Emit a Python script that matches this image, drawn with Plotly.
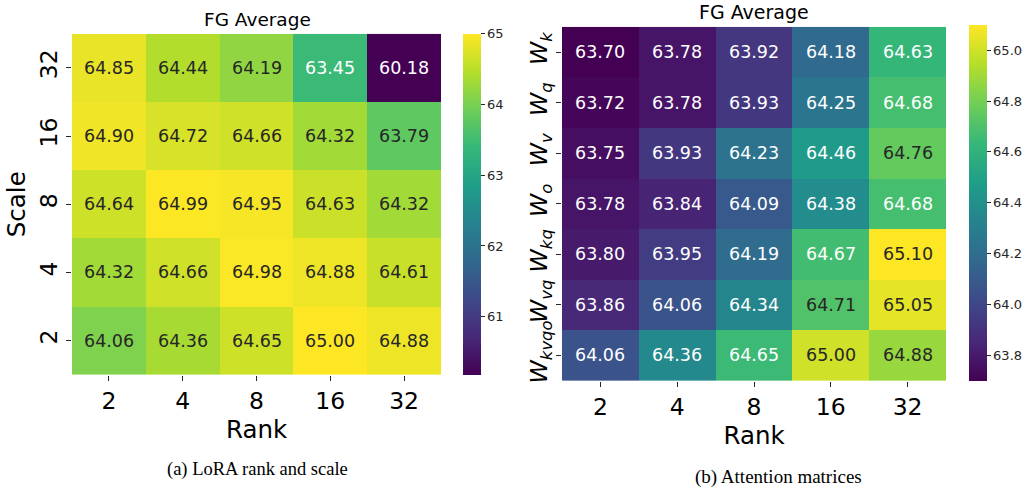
import plotly.graph_objects as go
from plotly.colors import sample_colorscale, unlabel_rgb

ranks = ["2", "4", "8", "16", "32"]

# Left: LoRA rank and scale (rows top -> bottom)
scales = ["32", "16", "8", "4", "2"]
lora_vals = [
    [64.85, 64.44, 64.19, 63.45, 60.18],
    [64.90, 64.72, 64.66, 64.32, 63.79],
    [64.64, 64.99, 64.95, 64.63, 64.32],
    [64.32, 64.66, 64.98, 64.88, 64.61],
    [64.06, 64.36, 64.65, 65.00, 64.88],
]
lora_ticks = [61, 62, 63, 64, 65]

# Right: attention matrices (rows top -> bottom)
matrices = ["<i>W</i><sub><i>k</i></sub>", "<i>W</i><sub><i>q</i></sub>",
            "<i>W</i><sub><i>v</i></sub>", "<i>W</i><sub><i>o</i></sub>",
            "<i>W</i><sub><i>kq</i></sub>", "<i>W</i><sub><i>vq</i></sub>",
            "<i>W</i><sub><i>kvqo</i></sub>"]
attn_vals = [
    [63.70, 63.78, 63.92, 64.18, 64.63],
    [63.72, 63.78, 63.93, 64.25, 64.68],
    [63.75, 63.93, 64.23, 64.46, 64.76],
    [63.78, 63.84, 64.09, 64.38, 64.68],
    [63.80, 63.95, 64.19, 64.67, 65.10],
    [63.86, 64.06, 64.34, 64.71, 65.05],
    [64.06, 64.36, 64.65, 65.00, 64.88],
]
attn_ticks = [63.8, 64.0, 64.2, 64.4, 64.6, 64.8, 65.0]

title_text = "FG Average"
caption_a = "(a) LoRA rank and scale"
caption_b = "(b) Attention matrices"

W, H = 1031, 493
FONT = "DejaVu Sans"
DARK = "#262626"


def text_color(v, lo, hi):
    t = (v - lo) / (hi - lo)
    rgb = unlabel_rgb(sample_colorscale("Viridis", [t])[0])
    lin = []
    for c in rgb:
        c = c / 255.0
        lin.append(c / 12.92 if c <= 0.04045 else ((c + 0.055) / 1.055) ** 2.4)
    lum = 0.2126 * lin[0] + 0.7152 * lin[1] + 0.0722 * lin[2]
    return DARK if lum > 0.408 else "white"


def px_x(p):
    return p / W


def px_y(p):
    return 1 - p / H


fig = go.Figure()

# geometry (pixels)
L = dict(x0=72, x1=441, y0=34, y1=377, cbx=463)
R = dict(x0=562, x1=946, y0=27, y1=383, cbx=969, cby0=25, cby1=383)

lo_a, hi_a = min(map(min, lora_vals)), max(map(max, lora_vals))
lo_b, hi_b = min(map(min, attn_vals)), max(map(max, attn_vals))

# plot rows bottom -> top
fig.add_trace(go.Heatmap(
    z=lora_vals[::-1], x=ranks, y=scales[::-1], colorscale="Viridis", zmin=lo_a, zmax=hi_a,
    xaxis="x", yaxis="y", hoverinfo="skip",
    colorbar=dict(x=px_x(L["cbx"]), xanchor="left", xpad=0, ypad=0,
                  y=(px_y(L["y0"]) + px_y(L["y1"])) / 2, yanchor="middle",
                  len=(L["y1"] - L["y0"]) / H, thickness=18, outlinewidth=0,
                  tickvals=lora_ticks, ticks="outside", ticklen=4, tickcolor=DARK,
                  tickfont=dict(family=FONT, size=13, color=DARK)),
))
fig.add_trace(go.Heatmap(
    z=attn_vals[::-1], x=ranks, y=matrices[::-1], colorscale="Viridis", zmin=lo_b, zmax=hi_b,
    xaxis="x2", yaxis="y2", hoverinfo="skip",
    colorbar=dict(x=px_x(R["cbx"]), xanchor="left", xpad=0, ypad=0,
                  y=(px_y(R["cby0"]) + px_y(R["cby1"])) / 2, yanchor="middle",
                  len=(R["cby1"] - R["cby0"]) / H, thickness=18, outlinewidth=0,
                  tickvals=attn_ticks, tickformat=".1f", ticks="outside", ticklen=4,
                  tickcolor=DARK, tickfont=dict(family=FONT, size=13, color=DARK)),
))

anns = []
nA = len(scales)
for i, row in enumerate(lora_vals):
    for j, v in enumerate(row):
        anns.append(dict(x=j, y=nA - 1 - i, xref="x", yref="y", text=f"{v:.2f}",
                         showarrow=False,
                         font=dict(family=FONT, size=17.5, color=text_color(v, lo_a, hi_a))))
nB = len(matrices)
for i, row in enumerate(attn_vals):
    for j, v in enumerate(row):
        anns.append(dict(x=j, y=nB - 1 - i, xref="x2", yref="y2", text=f"{v:.2f}",
                         showarrow=False,
                         font=dict(family=FONT, size=17.5, color=text_color(v, lo_b, hi_b))))


def paper_text(xp, yp, text, family, size):
    return dict(x=px_x(xp), y=px_y(yp), xref="paper", yref="paper", text=text,
                xanchor="center", yanchor="middle", showarrow=False,
                font=dict(family=family, size=size, color="black"))


anns.append(paper_text(257, 20, title_text, FONT, 18.5))
anns.append(paper_text(754, 12, title_text, FONT, 19))
anns.append(paper_text(257, 472, caption_a, "Liberation Serif", 18.5))
anns.append(paper_text(778, 480, caption_b, "Liberation Serif", 19))

axis_common = dict(type="category", showgrid=False, zeroline=False, showline=False,
                   ticks="outside", ticklen=5, tickcolor=DARK,
                   tickfont=dict(family=FONT, size=23.5, color="black"))

fig.update_layout(
    width=W, height=H, margin=dict(l=0, r=0, t=0, b=0),
    paper_bgcolor="white", plot_bgcolor="white",
    xaxis=dict(domain=[px_x(L["x0"]), px_x(L["x1"])], anchor="y",
               range=[-0.5, len(ranks) - 0.5],
               title=dict(text="Rank", font=dict(family=FONT, size=24.5, color="black"), standoff=3),
               **axis_common),
    yaxis=dict(domain=[px_y(L["y1"]), px_y(L["y0"])], anchor="x", tickangle=-90,
               range=[-0.5, nA - 0.5],
               title=dict(text="Scale", font=dict(family=FONT, size=24.5, color="black"), standoff=2),
               **axis_common),
    xaxis2=dict(domain=[px_x(R["x0"]), px_x(R["x1"])], anchor="y2",
                range=[-0.5, len(ranks) - 0.5],
                title=dict(text="Rank", font=dict(family=FONT, size=24.5, color="black"), standoff=4),
                **axis_common),
    yaxis2=dict(domain=[px_y(R["y1"]), px_y(R["y0"])], anchor="x2", tickangle=-90,
                range=[-0.5, nB - 0.5],
                **axis_common),
    annotations=anns,
)

fig.write_html("out.html", config={"displayModeBar": False},
               post_script="document.body.style.margin='0';document.body.style.overflow='hidden';")
